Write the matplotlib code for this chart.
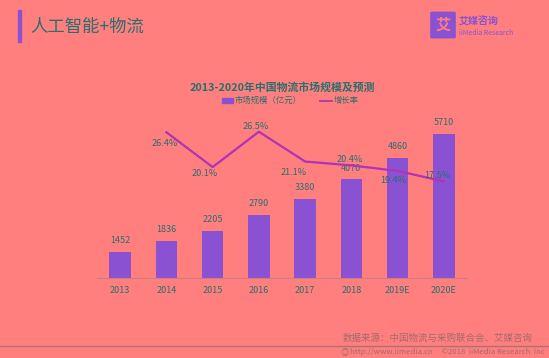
import matplotlib.pyplot as plt
from matplotlib.patches import Rectangle, FancyBboxPatch

plt.rcParams['font.family'] = ['Noto Sans CJK SC', 'DejaVu Sans']

# data
years = ['2013', '2014', '2015', '2016', '2017', '2018', '2019E', '2020E']
market_size = [1452, 1836, 2205, 2790, 3380, 4070, 4860, 5710]
growth_years = ['2014', '2015', '2016', '2017', '2018', '2019E', '2020E']
growth_rate = [26.4, 20.1, 26.5, 21.1, 20.4, 19.4, 17.5]
# label offsets (points) for growth labels
growth_offsets = [(-1, -8), (-5.5, -4.5), (-2, 3.5), (-8, -8), (-1, 4.5), (-3, -7), (-5, 4.3)]

bg = '#FF7F7F'
teal = '#2A6E6E'
bar_color = '#8A52D2'
line_color = '#B232B6'
gray = '#A46A6A'

fig = plt.figure(figsize=(5.49, 3.58), dpi=100, facecolor=bg)
W, H = 549, 358

def fx(px):
    return px / W

def fy(py):
    return 1 - py / H

# header
fig.patches.append(Rectangle((fx(18), fy(42)), fx(3), 32 / H, transform=fig.transFigure,
                             color='#8A52D2', zorder=2))
fig.text(fx(30), fy(27), '人工智能+物流', fontsize=12.5, color=teal, va='center', ha='left')

# logo
fig.patches.append(FancyBboxPatch((fx(432), fy(37)), fx(22), 24 / H, transform=fig.transFigure,
                                  boxstyle='round,pad=0.002', color='#8A52D2', zorder=2))
fig.text(fx(443), fy(25), '艾', fontsize=11, color=bg, ha='center', va='center',
         fontweight='bold')
fig.text(fx(459), fy(21), '艾媒咨询', fontsize=7.2, color='#8A52D2', ha='left', va='center',
         fontweight='bold')
fig.text(fx(459), fy(33), 'iiMedia Research', fontsize=5, color='#8A52D2', ha='left',
         va='center')

# main axes
ax = fig.add_axes([fx(97), fy(278), fx(467) - fx(97), 158 / H])
ax.set_facecolor(bg)
x = list(range(len(years)))
bars = ax.bar(x, market_size, width=0.46, color=bar_color, zorder=2)
ax.set_xlim(-0.5, 7.5)
ax.set_ylim(514, 514 + 158 / 0.0277)
for xi, v in zip(x, market_size):
    ax.annotate(str(v), (xi, v), xytext=(0, 5), textcoords='offset points', ha='center',
                va='bottom', fontsize=6.5, color=teal, annotation_clip=False)
ax.set_xticks(x)
ax.set_xticklabels(years, fontsize=6.5, color=teal)
ax.tick_params(axis='x', length=0, pad=6)
ax.set_yticks([])
for s in ['top', 'right', 'left']:
    ax.spines[s].set_visible(False)
ax.spines['bottom'].set_color('#C98080')
ax.spines['bottom'].set_linewidth(0.8)

ax2 = ax.twinx()
ax2.set_ylim(0, 158 / 5.52)
gx = [years.index(g) for g in growth_years]
ax2.plot(gx, growth_rate, color=line_color, linewidth=1.6, zorder=3)
for xi, v, off in zip(gx, growth_rate, growth_offsets):
    ax2.annotate(f'{v}%', (xi, v), xytext=off, textcoords='offset points', ha='center',
                 va='center', fontsize=6.6, color=teal, annotation_clip=False)
ax2.set_yticks([])
for s in ax2.spines.values():
    s.set_visible(False)

# chart title and legend
fig.text(fx(282), fy(87), '2013-2020年中国物流市场规模及预测', fontsize=7.8, color=teal,
         ha='center', va='center', fontweight='bold')
fig.patches.append(Rectangle((fx(222), fy(103)), fx(11), 5 / H, transform=fig.transFigure,
                             color=bar_color))
fig.text(fx(235), fy(100.5), '市场规模（亿元）', fontsize=6, color=teal, ha='left', va='center')
fig.lines.append(plt.Line2D([fx(320), fx(332)], [fy(100.5), fy(100.5)],
                            transform=fig.transFigure, color=line_color, linewidth=1.3))
fig.text(fx(334), fy(100.5), '增长率', fontsize=6, color=teal, ha='left', va='center')

# footer
fig.text(fx(343), fy(338.5), '数据来源：中国物流与采购联合会、艾媒咨询', fontsize=6.8, color=gray,
         ha='left', va='center')
fig.lines.append(plt.Line2D([0, 1], [fy(345.5), fy(345.5)], transform=fig.transFigure,
                            color='#B07070', linewidth=1))
fig.text(fx(341), fy(352.5), '\u25CE', fontsize=6, color=gray, ha='left', va='center')
fig.text(fx(350), fy(352.5), 'http://www.iimedia.cn     ©2018  iiMedia Research  Inc',
         fontsize=5.6, color=gray, ha='left', va='center')

fig.savefig('out.png', dpi=100, facecolor=bg)
